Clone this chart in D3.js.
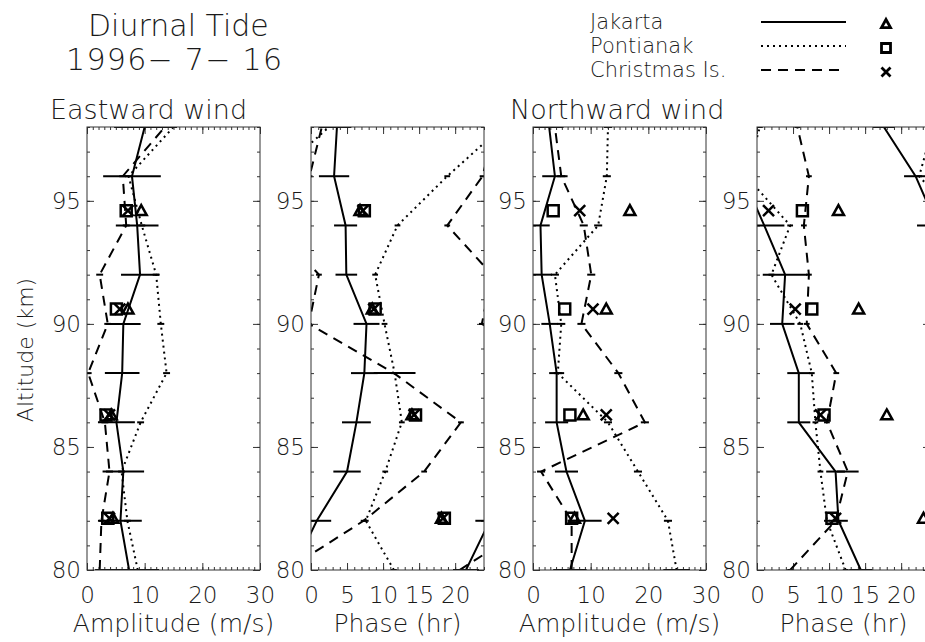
<!DOCTYPE html>
<html>
<head>
<meta charset="utf-8">
<script src="https://cdn.jsdelivr.net/npm/d3@7"></script>
<style>
  body { margin: 0; background: #fff; }
  svg text { font-family: "DejaVu Sans", sans-serif; font-weight: 200; fill: #1a1a1a; }
</style>
</head>
<body>
<div class="chart"></div>
<script>
// radar levels (km) and meteor-radar symbol levels
const levels = [80, 82, 84, 86, 88, 90, 92, 94, 96, 98];
const symLevels = [82.1, 86.3, 90.6, 94.6];
const stations = ["Jakarta", "Pontianak", "Christmas Is."];
const ampTicks = [0, 10, 20, 30];
const phaseTicks = [0, 5, 10, 15, 20];
const altTicks = [80, 85, 90, 95];

// Eastward wind, amplitude (m/s)
const jakEastAmp    = [7.3, 5.8, 6.3, 5.1, 6.1, 6.3, 9.2, 8.7, 7.8, 10.0];
const jakEastAmpErr = [5.2, 3.7, 3.6, 3.2, 3.0, 3.0, 3.3, 3.7, 5.0, 5.3];
const ponEastAmp    = [8.8, 7.0, 6.0, 9.3, 13.8, 12.8, 12.0, 9.5, 7.2, 15.0];
const ponEastAmpErr = [0.6, 0.6, 0.6, 0.6, 0.6, 0.6, 0.6, 0.6, 0.6, 0.6];
const chrEastAmp    = [2.2, 2.5, 3.9, 3.1, 0.2, 3.6, 2.2, 6.8, 6.2, 13.5];
const chrEastAmpErr = [0.8, 0.6, 0.6, 0.6, 0.6, 0.6, 0.6, 0.6, 0.6, 0.6];
const symEastAmp = {
  tri: [4.5, 4.2, 7.1, 9.4],
  sq:  [3.6, 3.3, 5.1, 6.8],
  x:   [3.9, 3.9, 5.7, 7.1]
};

// Eastward wind, phase (hr, local time of maximum)
const jakEastPh    = [21.5, 0.8, 5.0, 6.3, 7.4, 7.7, 4.9, 4.8, 3.2, 3.6];
const jakEastPhErr = [1.8, 2.0, 1.9, 2.0, 1.85, 1.8, 1.5, 1.6, 2.1, 2.0];
const ponEastPh    = [11.5, 7.6, 10.3, 12.6, 11.6, 10.2, 8.9, 12.0, 18.9, 2.5];
const ponEastPhErr = [0.4, 0.4, 0.4, 0.4, 2.9, 0.4, 0.4, 0.4, 0.4, 0.4];
const chrEastPh    = [20.6, 7.3, 15.7, 20.8, 11.5, 23.7, 1.1, 18.9, 23.8, 1.5];
const chrEastPhErr = [0.4, 0.4, 0.4, 0.4, 0.4, 0.4, 0.4, 0.4, 0.4, 0.4];
const symEastPh = {
  tri: [18.1, 14.0, 8.5, 6.8],
  sq:  [18.5, 14.5, 8.9, 7.4],
  x:   [18.3, 14.3, 8.7, 7.2]
};

// Northward wind, amplitude (m/s)
const jakNorthAmp    = [6.4, 9.0, 5.8, 4.1, 4.1, 2.9, 1.5, 1.3, 3.8, 2.8];
const jakNorthAmpErr = [2.9, 2.9, 2.0, 2.0, 1.3, 1.45, 1.8, 1.6, 2.2, 2.5];
const ponNorthAmp    = [24.9, 23.4, 18.2, 13.0, 4.3, 4.9, 3.8, 11.3, 12.8, 13.0];
const ponNorthAmpErr = [2.3, 0.7, 0.7, 0.7, 0.7, 0.7, 0.7, 0.7, 0.7, 0.7];
const chrNorthAmp    = [6.7, 6.7, 1.4, 19.4, 14.8, 8.4, 10.1, 8.8, 4.9, 3.8];
const chrNorthAmpErr = [0.7, 0.7, 0.7, 0.7, 0.7, 0.7, 0.7, 0.7, 0.7, 0.7];
const symNorthAmp = {
  tri: [7.2, 8.7, 12.7, 16.8],
  sq:  [6.7, 6.4, 5.5, 3.5],
  x:   [13.9, 12.7, 10.4, 8.1]
};

// Northward wind, phase (hr)
const jakNorthPh    = [14.4, 11.3, 10.9, 5.8, 5.8, 3.5, 3.9, 1.0, 22.0, 17.6];
const jakNorthPhErr = [1.6, 1.3, 1.3, 1.6, 1.6, 1.7, 3.1, 2.8, 1.6, 1.5];
const ponNorthPh    = [12.3, 9.7, 8.8, 8.1, 7.6, 6.0, 2.0, 4.6, 22.5, 0.4];
const ponNorthPhErr = [0.4, 0.4, 0.4, 0.4, 0.4, 0.4, 0.4, 0.4, 0.4, 0.4];
const chrNorthPh    = [4.6, 10.9, 12.6, 9.7, 11.0, 6.9, 7.2, 6.5, 7.2, 5.6];
const chrNorthPhErr = [0.4, 0.4, 1.5, 0.4, 0.4, 0.4, 0.4, 0.4, 0.4, 0.4];
const symNorthPh = {
  tri: [23.1, 18.0, 14.1, 11.3],
  sq:  [10.4, 9.3, 7.6, 6.3],
  x:   [10.9, 8.8, 5.3, 1.6]
};

const W = 173, H = 443, TOP = 127;
const dashes = [null, "2,4", "10,7"];
const symTypes = ["tri", "sq", "x"];

const panels = [
  { x0: 87,  max: 30, wrap: false, ticks: ampTicks, minor: 1, major: 10, label: "Amplitude (m/s)",
    vals: [jakEastAmp, ponEastAmp, chrEastAmp], errs: [jakEastAmpErr, ponEastAmpErr, chrEastAmpErr], syms: symEastAmp },
  { x0: 311, max: 24, wrap: true, ticks: phaseTicks, minor: 1, major: 5, label: "Phase (hr)",
    vals: [jakEastPh, ponEastPh, chrEastPh], errs: [jakEastPhErr, ponEastPhErr, chrEastPhErr], syms: symEastPh },
  { x0: 533, max: 30, wrap: false, ticks: ampTicks, minor: 1, major: 10, label: "Amplitude (m/s)",
    vals: [jakNorthAmp, ponNorthAmp, chrNorthAmp], errs: [jakNorthAmpErr, ponNorthAmpErr, chrNorthAmpErr], syms: symNorthAmp },
  { x0: 757, max: 24, wrap: true, ticks: phaseTicks, minor: 1, major: 5, label: "Phase (hr)",
    vals: [jakNorthPh, ponNorthPh, chrNorthPh], errs: [jakNorthPhErr, ponNorthPhErr, chrNorthPhErr], syms: symNorthPh }
];

// phase is cyclic: join each level to the next by the shorter way round
function unwrap(vals) {
  const out = [vals[0]];
  for (let i = 1; i < vals.length; i++) {
    const d = ((vals[i] - out[i - 1]) % 24 + 36) % 24 - 12;
    out.push(out[i - 1] + d);
  }
  return out;
}

const svg = d3.select(".chart")
  .append("svg")
    .attr("width", 925)
    .attr("height", 642);

const defs = svg.append("defs");

function symbolPath(type, s) {
  const h = s / 2;
  if (type === "tri") return `M0,${-h}L${h},${h * 0.8}L${-h},${h * 0.8}Z`;
  if (type === "sq") return `M${-h},${-h}H${h}V${h}H${-h}Z`;
  return `M${-h},${-h}L${h},${h}M${h},${-h}L${-h},${h}`;
}

//titles
svg.append("text")
  .attr("x", 88).attr("y", 36)
  .style("font-size", "30px")
  .text("Diurnal Tide");
svg.append("text")
  .attr("x", 66).attr("y", 70)
  .attr("textLength", 216)
  .style("font-size", "30px")
  .text("1996\u2212 7\u2212 16");

svg.append("text")
  .attr("x", 50).attr("y", 119)
  .style("font-size", "27px")
  .text("Eastward wind");
svg.append("text")
  .attr("x", 510).attr("y", 119)
  .style("font-size", "27px")
  .text("Northward wind");

svg.append("text")
  .attr("transform", "translate(33,350) rotate(-90)")
  .attr("text-anchor", "middle")
  .style("font-size", "22px")
  .text("Altitude (km)");

//legend
const legend = svg.append("g");
stations.forEach((name, i) => {
  const ly = 22 + i * 24;
  legend.append("text")
    .attr("x", 590).attr("y", ly + 7)
    .style("font-size", "21px")
    .text(name);
  legend.append("line")
    .attr("x1", 761).attr("x2", 846)
    .attr("y1", ly).attr("y2", ly)
    .style("stroke", "#000")
    .style("stroke-width", 2)
    .style("stroke-dasharray", dashes[i]);
  legend.append("path")
    .attr("transform", `translate(886,${ly + 2})`)
    .attr("d", symbolPath(symTypes[i], 9))
    .style("fill", "none")
    .style("stroke", "#000")
    .style("stroke-width", 2.8);
});

const y = d3.scaleLinear().domain([80, 98]).range([H, 0]);

panels.forEach((p, pi) => {
  const x = d3.scaleLinear().domain([0, p.max]).range([0, W]);
  const g = svg.append("g").attr("transform", `translate(${p.x0},${TOP})`);

  defs.append("clipPath").attr("id", `clip${pi}`)
    .append("rect").attr("width", W).attr("height", H);

  const minorX = d3.range(0, p.max + 0.01, p.minor);
  const majorX = d3.range(0, p.max + 0.01, p.major);
  const minorY = d3.range(80, 98.01, 1);

  //axes, ticks inward
  const axes = g.append("g").attr("class", "axes");
  axes.append("g").attr("transform", `translate(0,${H})`)
    .call(d3.axisBottom(x).tickValues(minorX).tickSize(-3).tickFormat(""));
  axes.append("g").attr("transform", `translate(0,${H})`)
    .call(d3.axisBottom(x).tickValues(majorX).tickSize(-7).tickFormat(""));
  axes.append("g")
    .call(d3.axisTop(x).tickValues(minorX).tickSize(-3).tickFormat(""));
  axes.append("g")
    .call(d3.axisTop(x).tickValues(majorX).tickSize(-7).tickFormat(""));
  axes.append("g")
    .call(d3.axisLeft(y).tickValues(minorY).tickSize(-3).tickFormat(""));
  axes.append("g")
    .call(d3.axisLeft(y).tickValues(altTicks).tickSize(-7).tickFormat(""));
  axes.append("g").attr("transform", `translate(${W},0)`)
    .call(d3.axisRight(y).tickValues(minorY).tickSize(-3).tickFormat(""));
  axes.append("g").attr("transform", `translate(${W},0)`)
    .call(d3.axisRight(y).tickValues(altTicks).tickSize(-7).tickFormat(""));
  axes.selectAll(".domain").remove();
  axes.selectAll(".tick line").style("stroke", "#333").style("stroke-width", 1);

  //tick labels
  const xl = g.append("g").attr("transform", `translate(0,${H})`)
    .call(d3.axisBottom(x).tickValues(p.ticks).tickSize(0).tickPadding(17).tickFormat(d3.format("d")));
  const yl = g.append("g")
    .call(d3.axisLeft(y).tickValues(altTicks).tickSize(0).tickPadding(6).tickFormat(d3.format("d")));
  [xl, yl].forEach(a => {
    a.select(".domain").remove();
    a.attr("font-family", null).attr("font-size", null);
    a.selectAll("text").style("font-size", "23px").attr("fill", null);
  });

  g.append("text")
    .attr("x", W / 2).attr("y", H + 62)
    .attr("text-anchor", "middle")
    .style("font-size", "25px")
    .text(p.label);

  //data
  const dg = g.append("g").attr("clip-path", `url(#clip${pi})`);
  const offsets = p.wrap ? [-48, -24, 0, 24, 48] : [0];

  p.vals.forEach((raw, si) => {
    const vals = p.wrap ? unwrap(raw) : raw;
    const errs = p.errs[si];
    offsets.forEach(off => {
      const line = d3.line()
        .x(d => x(d[0] + off))
        .y(d => y(d[1]));
      dg.append("path")
        .attr("d", line(vals.map((v, i) => [v, levels[i]])))
        .style("fill", "none")
        .style("stroke", "#000")
        .style("stroke-width", 2)
        .style("stroke-dasharray", dashes[si]);
      dg.selectAll(null)
        .data(vals.map((v, i) => ({ v: v + off, e: errs[i], alt: levels[i] })))
        .enter().append("line")
          .attr("x1", d => x(d.v - d.e))
          .attr("x2", d => x(d.v + d.e))
          .attr("y1", d => y(d.alt))
          .attr("y2", d => y(d.alt))
          .style("stroke", "#000")
          .style("stroke-width", 2);
    });
  });

  symTypes.forEach(t => {
    offsets.forEach(off => {
      dg.selectAll(null)
        .data(p.syms[t].map((v, i) => ({ v: v + off, alt: symLevels[i] })))
        .enter().append("path")
          .attr("transform", d => `translate(${x(d.v)},${y(d.alt)})`)
          .attr("d", symbolPath(t, 11))
          .style("fill", "none")
          .style("stroke", "#000")
          .style("stroke-width", 2.5);
    });
  });

  //frame
  g.append("rect")
    .attr("width", W).attr("height", H)
    .style("fill", "none")
    .style("stroke", "#333")
    .style("stroke-width", 1);
});
</script>
</body>
</html>
